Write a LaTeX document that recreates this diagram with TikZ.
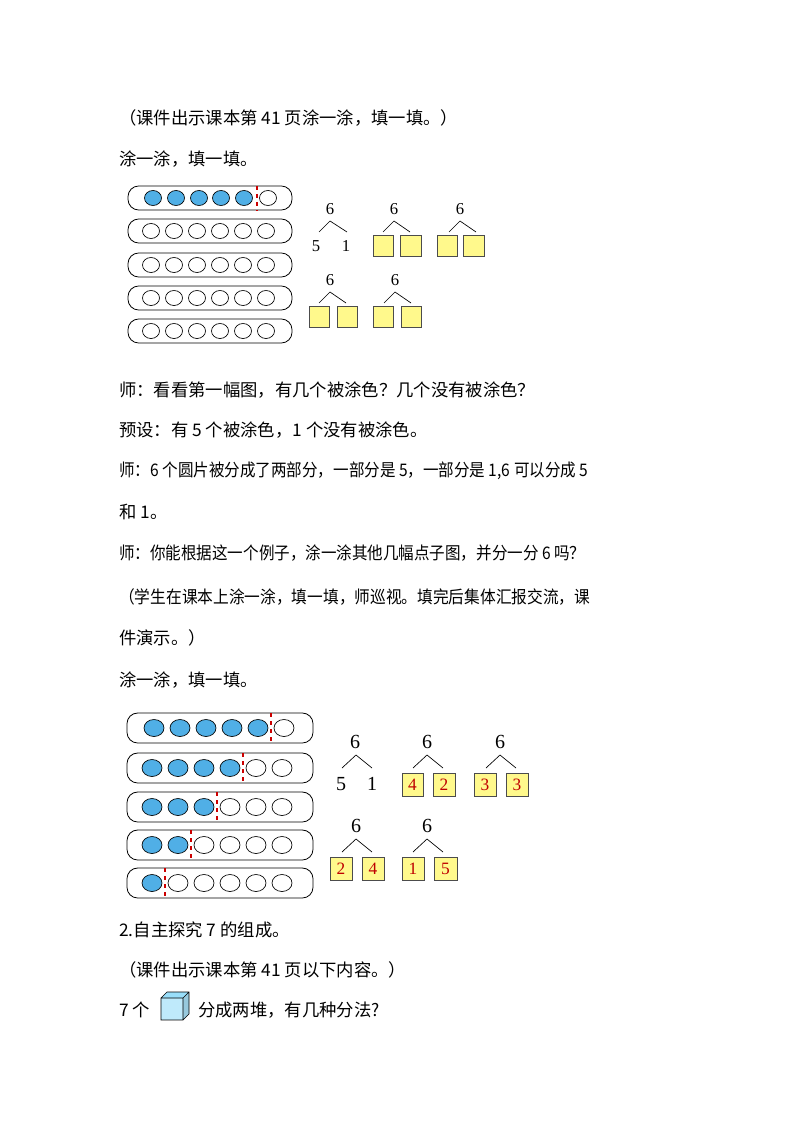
\documentclass[tikz,border=0pt]{standalone}
\usepackage{fontspec}
\setmainfont{Liberation Serif}
\newfontfamily\cjk{Noto Sans CJK SC}
\begin{document}
\begin{tikzpicture}[x=0.75pt,y=-0.75pt,
  txt/.style={anchor=west,inner sep=0,font=\cjk\fontsize{13}{14}\selectfont},
  row/.style={draw,rounded corners=8pt,line width=0.6pt},
  fb/.style={draw,fill=cyan!80!blue!70,line width=0.5pt},
  eb/.style={draw,fill=white,line width=0.5pt},
  cut/.style={red!80!black,dashed,line width=0.8pt},
  ybox/.style={draw=black!70,fill=yellow!45,line width=0.5pt},
  num/.style={inner sep=0,font=\fontsize{12.5}{13}\selectfont},
  bnum/.style={inner sep=0,font=\fontsize{15}{16}\selectfont},
  rnum/.style={inner sep=0,text=red!75!black,font=\fontsize{13}{14}\selectfont},
  br/.style={line width=0.5pt}]
\useasboundingbox (0,0) rectangle (794,1123);
\node[txt] (t1) at (119,118) {（课件出示课本第 41 页涂一涂，填一填。）};
\node[txt] (t2) at (119,159) {涂一涂，填一填。};
% top dots
\foreach \y [count=\r] in {198,231,265,298,331}{
  \draw[row] (128,\y-12) rectangle (292,\y+12);
}
\foreach \x [count=\i] in {153,176,199,221,244}{\draw[fb] (\x,198) ellipse (8.5 and 7.5);}
\draw[eb] (268,198) ellipse (8.5 and 7.5);
\draw[cut] (257,186) -- (257,211);
\foreach \y in {231,265,298,331}{
 \foreach \x in {151,174,197,220,243,266}{\draw[eb] (\x,\y) ellipse (8.5 and 7.5);}}
% top trees
\node[num] (a6) at (330,209) {6};
\draw[br] (319,232) -- (330,221) -- (347,232);
\node[num] (a5) at (316,246) {5};
\node[num] (a1) at (346,246) {1};
\foreach \cx/\cy/\la/\lb/\lc/\ld in {394/209/373/393/400/421, 460/209/437/457/463/484, 330/280/309/329/337/357, 395/280/373/393/401/421}{
  \node[num] at (\cx,\cy) {6};
  \draw[br] (\cx-11,\cy+23) -- (\cx,\cy+12) -- (\cx+16,\cy+23);
  \draw[ybox] (\la,\cy+26) rectangle (\lb,\cy+47);
  \draw[ybox] (\lc,\cy+26) rectangle (\ld,\cy+47);
}
\node[txt] at (119,390) {师：看看第一幅图，有几个被涂色？几个没有被涂色？};
\node[txt] at (119,430) {预设：有 5 个被涂色，1 个没有被涂色。};
\node[txt] at (119,471) {\resizebox{351.75pt}{\height}{师：6 个圆片被分成了两部分，一部分是 5，一部分是 1,6 可以分成 5}};
\node[txt] at (119,512) {和 1。};
\node[txt] at (119,553) {\resizebox{349.5pt}{\height}{师：你能根据这一个例子，涂一涂其他几幅点子图，并分一分 6 吗？}};
\node[txt] at (119,597) {\resizebox{353.25pt}{\height}{（学生在课本上涂一涂，填一填，师巡视。填完后集体汇报交流，课}};
\node[txt] at (119,638) {件演示。）};
\node[txt] at (119,680) {涂一涂，填一填。};
% bottom dots
\foreach \y in {728,768,807,845,883}{\draw[row] (127,\y-15) rectangle (313,\y+15);}
\foreach \x [count=\i] in {154,180,206,232,258,284}{
  \ifnum\i<6 \draw[fb] (\x,728) ellipse (10 and 8.5); \else \draw[eb] (\x,728) ellipse (10 and 8.5); \fi}
\draw[cut] (271,713) -- (271,743);
\foreach \y/\n/\c in {768/4/243,807/3/217,845/2/191,883/1/165}{
  \foreach \x [count=\i] in {152,178,204,230,256,282}{
    \ifnum\i>\n \draw[eb] (\x,\y) ellipse (10 and 8.5); \else \draw[fb] (\x,\y) ellipse (10 and 8.5); \fi}
  \draw[cut] (\c,\y-15) -- (\c,\y+15);
}
% bottom trees
\node[bnum] at (355,742) {6};
\draw[br] (342,768) -- (356,755) -- (372,768);
\node[bnum] at (341,784) {5};
\node[bnum] at (372,784) {1};
\foreach \cx/\cy/\la/\lb/\lc/\ld/\na/\nb in {427/742/402/423/433/455/4/2, 500/742/474/496/506/528/3/3, 356/826/330/352/362/384/2/4, 427/826/402/424/434/457/1/5}{
  \node[bnum] at (\cx,\cy) {6};
  \draw[br] (\cx-14,\cy+26) -- (\cx,\cy+13) -- (\cx+16,\cy+26);
  \draw[ybox] (\la,\cy+31) rectangle (\lb,\cy+54);
  \node[rnum] at ({(\la+\lb)/2},\cy+42.5) {\na};
  \draw[ybox] (\lc,\cy+31) rectangle (\ld,\cy+54);
  \node[rnum] at ({(\lc+\ld)/2},\cy+42.5) {\nb};
}
\node[txt] at (119,930) {2.自主探究 7 的组成。};
\node[txt] at (119,970) {（课件出示课本第 41 页以下内容。）};
\node[txt] (c1) at (119,1010) {7 个};
% cube
\fill[cyan!25] (161,998) rectangle (183,1020);
\fill[cyan!40] (161,998) -- (167,992) -- (189,992) -- (183,998) -- cycle;
\fill[cyan!55!gray!60] (183,998) -- (189,992) -- (189,1014) -- (183,1020) -- cycle;
\draw[line width=0.5pt] (161,998) rectangle (183,1020) (161,998) -- (167,992) -- (189,992) -- (189,1014) -- (183,1020) (183,998) -- (189,992);
\node[txt] (c2) at (198,1010) {分成两堆，有几种分法?};
\end{tikzpicture}
\end{document}
